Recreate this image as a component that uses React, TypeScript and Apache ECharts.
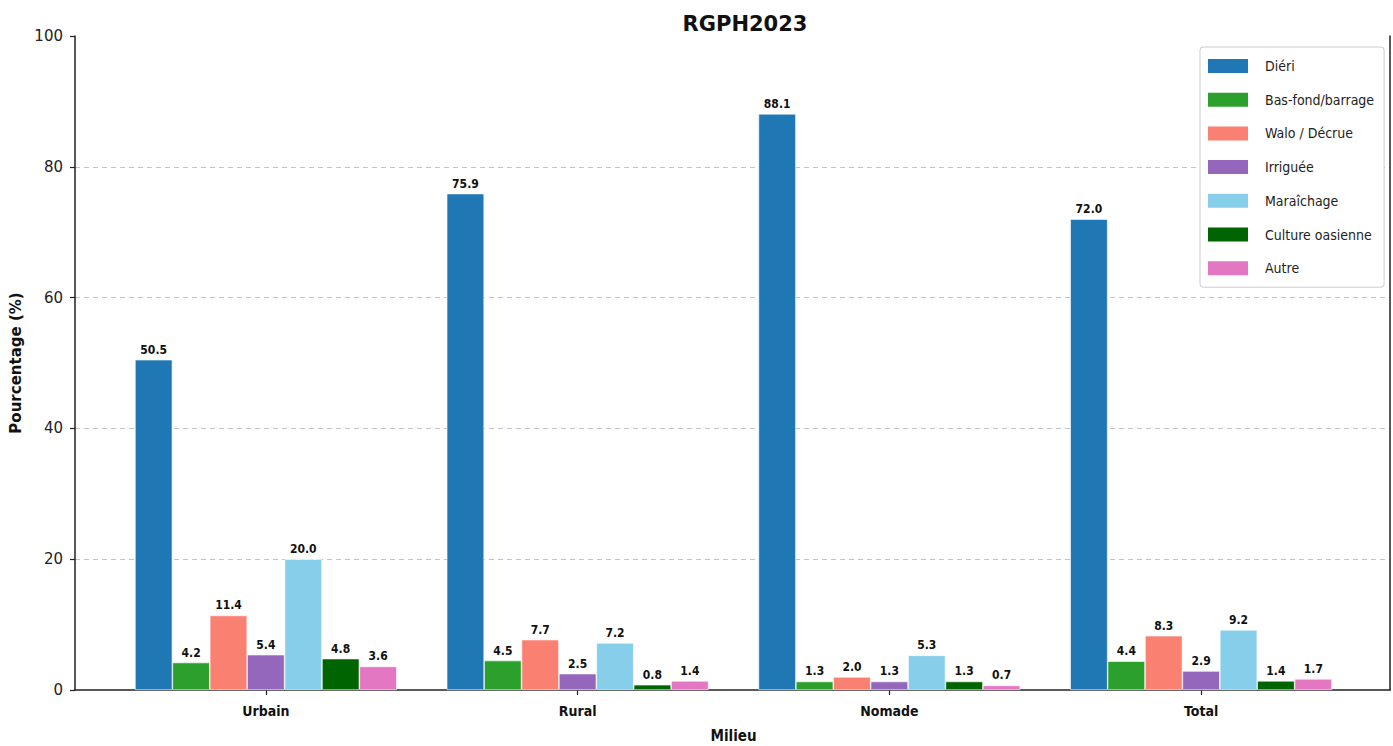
import React, { useEffect, useRef } from "react";
import * as echarts from "echarts";

const categories = ["Urbain", "Rural", "Nomade", "Total"];
const seriesNames = ["Diéri", "Bas-fond/barrage", "Walo / Décrue", "Irriguée", "Maraîchage", "Culture oasienne", "Autre"];
const dieri = [50.5, 75.9, 88.1, 72.0];
const basFond = [4.2, 4.5, 1.3, 4.4];
const walo = [11.4, 7.7, 2.0, 8.3];
const irriguee = [5.4, 2.5, 1.3, 2.9];
const maraichage = [20.0, 7.2, 5.3, 9.2];
const oasienne = [4.8, 0.8, 1.3, 1.4];
const autre = [3.6, 1.4, 0.7, 1.7];
const colors = ["#1f77b4", "#2ca02c", "#fa8072", "#9467bd", "#87ceeb", "#006400", "#e377c2"];
const yTicks = [0, 20, 40, 60, 80, 100];

const condensed = "'Liberation Sans Narrow', 'DejaVu Sans Condensed', 'Noto Sans', sans-serif";

export default function App() {
  const ref = useRef<HTMLDivElement>(null);
  useEffect(() => {
    if (!ref.current) return;
    const chart = echarts.init(ref.current, null, { renderer: "svg" });
    const allValues = [dieri, basFond, walo, irriguee, maraichage, oasienne, autre];
    const series: any[] = allValues.map((vals, i) => ({
      name: seriesNames[i],
      type: "bar",
      xAxisIndex: 0,
      yAxisIndex: 0,
      data: vals,
      barWidth: 37.4,
      barGap: "0%",
      itemStyle: { color: colors[i], borderColor: "#ffffff", borderWidth: 0.6 },
      label: {
        show: true,
        position: "top",
        distance: 4,
        formatter: (p: any) => Number(p.value).toFixed(1),
        fontFamily: condensed,
        fontWeight: "bold",
        fontSize: 12,
        color: "#111",
      },
    }));
    chart.setOption({
      animation: false,
      backgroundColor: "#ffffff",
      title: {
        text: "RGPH2023",
        left: 740,
        top: 8,
        textAlign: "center",
        textStyle: { fontFamily: "'DejaVu Sans', sans-serif", fontWeight: "bold", fontSize: 21, color: "#111" },
      },
      legend: {
        data: seriesNames,
        orient: "vertical",
        left: 1200,
        top: 47,
        padding: [12, 10, 12, 8],
        itemWidth: 40,
        itemHeight: 14,
        itemGap: 19.7,
        borderColor: "#cccccc",
        borderWidth: 1,
        borderRadius: 3,
        backgroundColor: "#ffffff",
        icon: "rect",
        itemStyle: { borderWidth: 0 },
        textStyle: { fontFamily: condensed, fontSize: 14, color: "#222", lineHeight: 14, padding: [0, 0, 0, 12] },
      },
      grid: [
        { left: 110, right: 36, top: 36, bottom: 56, outerBoundsMode: "none", containLabel: false },
        { left: 75, right: 3, top: 36, bottom: 56, outerBoundsMode: "none", containLabel: false },
      ],
      xAxis: [
        {
          type: "category",
          gridIndex: 0,
          data: categories,
          axisLine: { show: false },
          axisTick: { show: true, alignWithLabel: true, length: 5, lineStyle: { color: "#222", width: 1.2 } },
          axisLabel: { fontFamily: condensed, fontWeight: "bold", fontSize: 14, color: "#111", margin: 14 },
          name: "Milieu",
          nameLocation: "middle",
          nameGap: 38,
          nameTextStyle: { fontFamily: condensed, fontWeight: "bold", fontSize: 15, color: "#111" },
        },
        {
          type: "value",
          gridIndex: 1,
          min: 0,
          max: 1,
          axisLine: { show: true, lineStyle: { color: "#222", width: 1.5 } },
          axisTick: { show: false },
          axisLabel: { show: false },
          splitLine: { show: false },
        },
      ],
      yAxis: [
        {
          type: "value",
          gridIndex: 0,
          min: 0,
          max: 100,
          show: false,
          splitLine: { show: false },
        },
        {
          type: "value",
          gridIndex: 1,
          min: 0,
          max: 100,
          interval: 20,
          position: "left",
          axisLine: { show: true, lineStyle: { color: "#222", width: 1.5 } },
          axisTick: { show: true, length: 5, lineStyle: { color: "#222", width: 1.2 } },
          axisLabel: {
            fontFamily: "'DejaVu Sans', sans-serif",
            fontSize: 15,
            color: "#222",
            margin: 12,
            formatter: (v: number) => (yTicks.includes(v) ? String(v) : ""),
          },
          splitLine: { show: true, showMinLine: false, showMaxLine: false, lineStyle: { color: "#c4c4c4", type: [5, 4], width: 1 } },
          name: "Pourcentage (%)",
          nameLocation: "middle",
          nameGap: 49,
          nameTextStyle: { fontFamily: "'DejaVu Sans', sans-serif", fontWeight: "bold", fontSize: 15, color: "#111" },
        },
        {
          type: "value",
          gridIndex: 1,
          min: 0,
          max: 100,
          position: "right",
          axisLine: { show: true, lineStyle: { color: "#222", width: 1.5 } },
          axisTick: { show: false },
          axisLabel: { show: false },
          splitLine: { show: false },
        },
      ],
      series,
    });
    return () => chart.dispose();
  }, []);
  return <div ref={ref} style={{ width: 1393, height: 746, position: "absolute", left: 0, top: 0 }} />;
}
